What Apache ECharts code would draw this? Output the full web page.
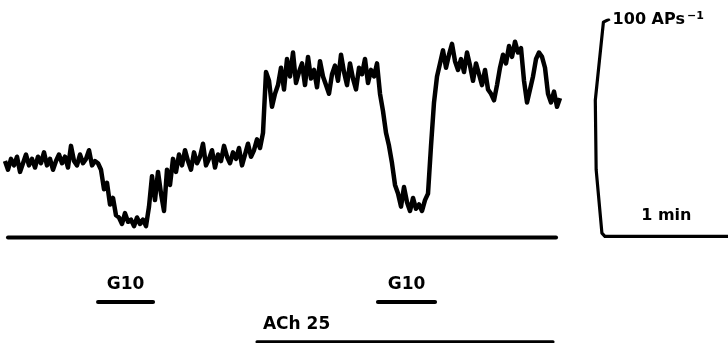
<!DOCTYPE html>
<html>
<head>
<meta charset="utf-8">
<script src="https://cdn.jsdelivr.net/npm/echarts@6/dist/echarts.min.js"></script>
<style>
  html, body { margin: 0; padding: 0; background: #fff; }
  #chart { width: 728px; height: 343px; }
</style>
</head>
<body>
<div id="chart"></div>
<script>
  // firing rate trace (APs/s), one sample every dt seconds
  const dt = 1.40625
  const rate = [
    35, 31, 36, 33, 37, 30, 34, 38, 33, 36, 32, 37, 34, 39, 33, 36,
    31, 35, 38, 34, 37, 32, 42, 35, 33, 38, 34, 36, 40, 33, 35, 34,
    31, 22, 25, 15, 18, 10,
    9, 6, 11, 7, 8, 5, 9, 6, 8, 5,
    14, 28, 17, 30, 20, 12, 31, 24,
    36, 30, 38, 33, 40, 35, 31, 39, 34, 37, 43, 33, 36, 40, 32, 38,
    35, 42, 37, 34, 39, 36, 41, 33, 38, 43, 37, 40, 45, 41,
    48, 76,
    72, 60, 66, 70, 78, 68, 82, 74, 85, 71, 76, 80, 70, 83, 73, 77,
    69, 81, 74, 70, 66, 75, 79, 72, 84, 76, 70, 80, 73, 68, 78, 75,
    82, 71, 77, 74, 80,
    66, 58, 48, 42, 34, 24,
    20, 14, 23, 16, 12, 18, 13, 15, 12, 17,
    20, 42, 62, 74,
    80, 86, 78, 84, 89, 81, 77,
    82, 76, 85, 79, 72, 80, 75, 70, 77, 68,
    66, 63, 70,
    78, 84, 80, 88, 83, 90, 85, 87,
    72, 62, 68,
    74, 82, 85, 83, 78,
    66, 62, 67, 60, 64
  ]

  // drug application periods (s)
  const g10Start = [43.6, 174.8]
  const g10End = [69.4, 201.6]
  const achStart = 118.1
  const achEnd = 256.9

  // zero line under the trace (s)
  const zeroStart = 1.4
  const zeroEnd = 258.3

  // calibration bars
  const scaleT0 = 279
  const scaleTime = 60
  const scaleRate = 100

  const black = '#000'
  const font = 'DejaVu Sans'

  const chart = echarts.init(document.getElementById('chart'))

  const traceData = []
  for (let i = 0; i < rate.length; i++) {
    traceData.push([i * dt, rate[i]])
  }

  const G10_Y = -30
  const ACH_Y = -48.3

  const series = [{
    name: 'trace',
    type: 'line',
    data: traceData,
    symbol: 'none',
    lineStyle: { color: black, width: 4.5, join: 'round' },
    silent: true,
    z: 3
  }, {
    name: 'zero',
    type: 'line',
    data: [[zeroStart, -0.2], [zeroEnd, -0.2]],
    symbol: 'none',
    lineStyle: { color: black, width: 4, cap: 'round' },
    silent: true
  }, {
    name: 'scale',
    type: 'line',
    data: [
      [scaleT0 + 4.5, scaleRate + 0.5],
      [scaleT0 + 1.5, scaleRate - 1],
      [scaleT0 - 2.3, 63],
      [scaleT0 - 1.9, 31],
      [scaleT0 + 0.8, 1.8],
      [scaleT0 + 2.2, 0.3],
      [scaleT0 + scaleTime, 0.3]
    ],
    symbol: 'none',
    lineStyle: { color: black, width: 3.2, join: 'round' },
    silent: true
  }]

  for (let i = 0; i < g10Start.length; i++) {
    series.push({
      name: 'G10 ' + (i + 1),
      type: 'line',
      data: [[g10Start[i], G10_Y], [g10End[i], G10_Y]],
      symbol: 'none',
      lineStyle: { color: black, width: 4, cap: 'round' },
      silent: true
    })
  }

  series.push({
    name: 'ACh',
    type: 'line',
    data: [[achStart, ACH_Y], [achEnd, ACH_Y]],
    symbol: 'none',
    lineStyle: { color: black, width: 3, cap: 'round' },
    silent: true
  })

  const labelStyle = { color: black, fontFamily: font, fontWeight: 'bold', fontSize: 17 }

  const labelPoints = []
  for (let i = 0; i < g10Start.length; i++) {
    labelPoints.push({
      value: [(g10Start[i] + g10End[i]) / 2, G10_Y],
      label: Object.assign({ formatter: 'G10', position: 'top', distance: 9 }, labelStyle)
    })
  }
  labelPoints.push({
    value: [achStart + 2.8, ACH_Y],
    label: Object.assign({ formatter: 'ACh 25', position: 'top', align: 'left', distance: 9 }, labelStyle)
  })
  labelPoints.push({
    value: [scaleT0 + scaleTime / 2 + 1, 0],
    label: Object.assign({ formatter: '1 min', position: 'top', distance: 13 }, labelStyle, { fontSize: 16 })
  })
  labelPoints.push({
    value: [scaleT0 + 3, scaleRate],
    label: {
      formatter: '{a|100 APs}{b|−1}',
      position: 'right',
      distance: 6,
      rich: {
        a: { color: black, fontFamily: font, fontWeight: 'bold', fontSize: 16 },
        b: { color: black, fontFamily: font, fontWeight: 'bold', fontSize: 11, padding: [0, 0, 8, 2] }
      }
    }
  })

  series.push({
    name: 'labels',
    type: 'scatter',
    data: labelPoints,
    symbolSize: 0,
    itemStyle: { opacity: 1 },
    label: { show: true },
    silent: true
  })

  chart.setOption({
    animation: false,
    backgroundColor: '#fff',
    grid: { left: 5, right: 0, top: 20, bottom: 0 },
    xAxis: { type: 'value', min: 0, max: 338.9, show: false },
    yAxis: { type: 'value', min: -48.85, max: 100, show: false },
    series: series
  })
</script>
</body>
</html>
